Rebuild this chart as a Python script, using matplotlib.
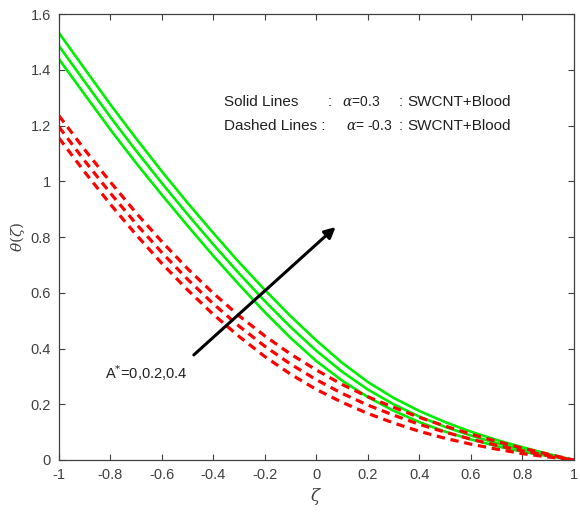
import matplotlib
matplotlib.use("Agg")
import matplotlib.pyplot as plt
import numpy as np

plt.rcParams['font.family'] = ['Liberation Sans', 'DejaVu Sans']
plt.rcParams['mathtext.fontset'] = 'dejavuserif'

# zeta grid (step 0.1)
zeta = np.round(np.arange(-1.0, 1.0001, 0.1), 2)

# solid lines, alpha = 0.3, A* = 0, 0.2, 0.4 (bottom -> top)
theta_solid = [
    [1.438, 1.311, 1.185, 1.065, 0.951, 0.840, 0.732, 0.629, 0.530, 0.438, 0.355,
     0.285, 0.226, 0.177, 0.136, 0.102, 0.074, 0.050, 0.030, 0.014, 0.0],
    [1.485, 1.357, 1.230, 1.109, 0.993, 0.881, 0.773, 0.669, 0.570, 0.477, 0.392,
     0.317, 0.253, 0.200, 0.156, 0.119, 0.088, 0.061, 0.038, 0.018, 0.0],
    [1.532, 1.403, 1.275, 1.153, 1.035, 0.922, 0.814, 0.709, 0.610, 0.516, 0.429,
     0.349, 0.280, 0.223, 0.176, 0.136, 0.102, 0.072, 0.046, 0.022, 0.0],
]

# dashed lines, alpha = -0.3
theta_dashed = [
    [1.155, 1.033, 0.917, 0.808, 0.705, 0.610, 0.522, 0.443, 0.371, 0.308, 0.253,
     0.207, 0.167, 0.133, 0.103, 0.078, 0.057, 0.039, 0.023, 0.011, 0.0],
    [1.195, 1.073, 0.957, 0.847, 0.744, 0.648, 0.560, 0.480, 0.408, 0.344, 0.288,
     0.239, 0.197, 0.161, 0.128, 0.100, 0.075, 0.053, 0.033, 0.016, 0.0],
    [1.235, 1.113, 0.997, 0.886, 0.783, 0.686, 0.598, 0.517, 0.445, 0.380, 0.323,
     0.271, 0.227, 0.189, 0.153, 0.122, 0.093, 0.067, 0.043, 0.021, 0.0],
]

xticks = [-1, -0.8, -0.6, -0.4, -0.2, 0, 0.2, 0.4, 0.6, 0.8, 1]
xticklabels = ['-1', '-0.8', '-0.6', '-0.4', '-0.2', '0', '0.2', '0.4', '0.6', '0.8', '1']
yticks = [0, 0.2, 0.4, 0.6, 0.8, 1, 1.2, 1.4, 1.6]
yticklabels = ['0', '0.2', '0.4', '0.6', '0.8', '1', '1.2', '1.4', '1.6']

fig = plt.figure(figsize=(5.8, 5.15), dpi=100)
ax = fig.add_axes([0.1017, 0.1068, 0.8873, 0.866])

for th in theta_solid:
    ax.plot(zeta, th, color='#00ee00', lw=1.9)
for th in theta_dashed:
    ax.plot(zeta, th, color='#ff0000', lw=2.3, dashes=(2.6, 1.8))

ax.set_xlim(-1, 1)
ax.set_ylim(0, 1.6)
ax.set_xticks(xticks)
ax.set_xticklabels(xticklabels)
ax.set_yticks(yticks)
ax.set_yticklabels(yticklabels)
ax.tick_params(direction='in', top=True, right=True, labelsize=10.5,
               labelcolor='#404040', color='#404040', length=4, width=0.8, pad=6)
for s in ax.spines.values():
    s.set_color('#404040')
    s.set_linewidth(0.9)

ax.set_xlabel(r'$\zeta$', fontsize=12, color='#404040', labelpad=3)
ax.set_ylabel(r'$\theta(\zeta)$', fontsize=11, color='#404040', labelpad=2)

# annotation text, placed piece by piece like the original
tc = '#202020'
ax.text(-0.36, 1.284, 'Solid Lines', fontsize=11, color=tc, va='center')
ax.text(0.045, 1.284, ':', fontsize=11, color=tc, va='center')
ax.text(0.10, 1.284, r'$\alpha$=0.3', fontsize=10, color=tc, va='center')
ax.text(0.32, 1.284, ':', fontsize=11, color=tc, va='center')
ax.text(0.355, 1.284, 'SWCNT+Blood', fontsize=11, color=tc, va='center')
ax.text(-0.36, 1.198, 'Dashed Lines :', fontsize=11, color=tc, va='center')
ax.text(0.115, 1.198, r'$\alpha$= -0.3', fontsize=10, color=tc, va='center')
ax.text(0.32, 1.198, ':', fontsize=11, color=tc, va='center')
ax.text(0.355, 1.198, 'SWCNT+Blood', fontsize=11, color=tc, va='center')

ax.annotate('', xy=(0.075, 0.836), xytext=(-0.476, 0.377),
            arrowprops=dict(arrowstyle='-|>', color='black', lw=2.2,
                            mutation_scale=16, shrinkA=0, shrinkB=0))
ax.text(-0.82, 0.31, r'A$^{*}$=0,0.2,0.4', fontsize=10.5, color=tc, va='center')

fig.savefig('out.png', dpi=100)
